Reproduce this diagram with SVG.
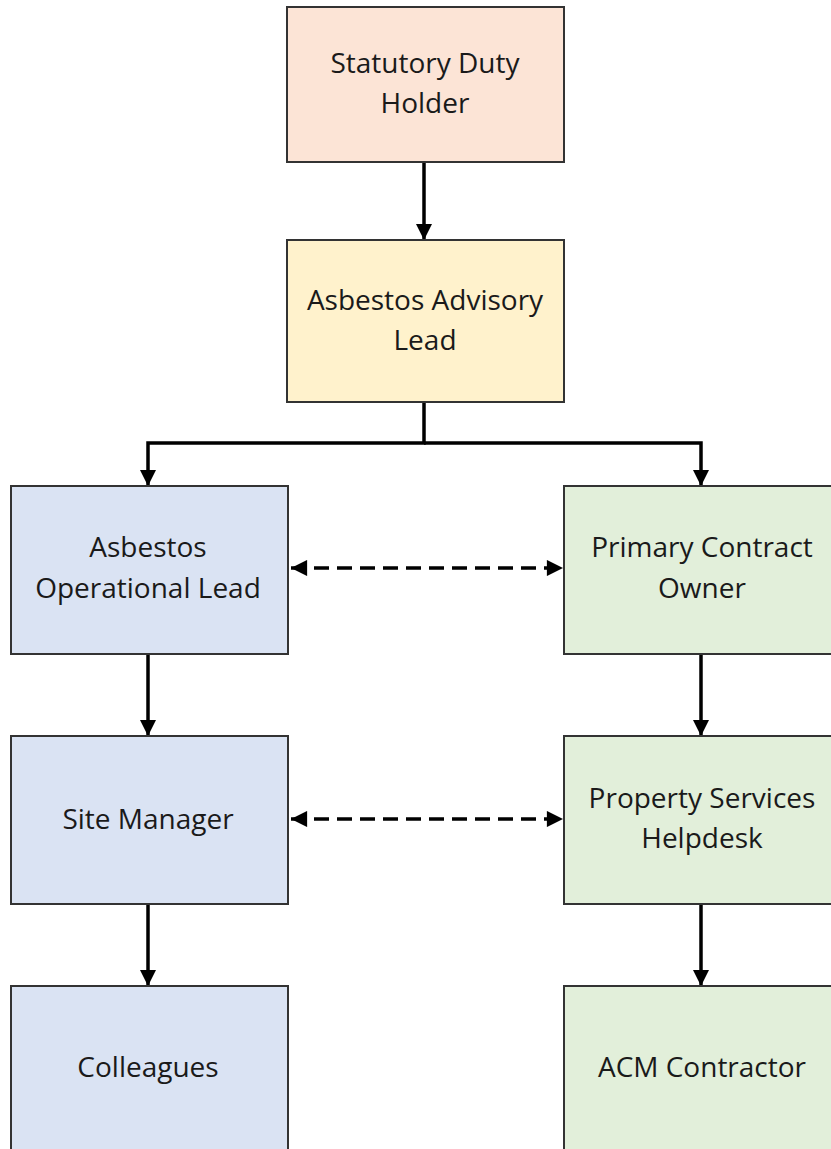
<svg xmlns="http://www.w3.org/2000/svg" width="831" height="1149" viewBox="0 0 831 1149">
<style>
.box{stroke:#333;stroke-width:2}
.peach{fill:#FCE4D6}.yellow{fill:#FFF2CC}.blue{fill:#DAE3F3}.green{fill:#E2EFDA}
text{font-family:"Open Sans","Liberation Sans",sans-serif;font-size:28px;fill:#1a1a1a;text-anchor:middle}
.line{stroke:#000;stroke-width:3.5;fill:none}
.dash{stroke:#000;stroke-width:3.5;fill:none;stroke-dasharray:15,8}
</style>
<defs>
<marker id="ah" viewBox="0 0 10 10" refX="10" refY="5" markerWidth="4.6" markerHeight="4.6" orient="auto" markerUnits="strokeWidth">
<path d="M0,0 L10,5 L0,10 z" fill="#000"/>
</marker>
<marker id="ahs" viewBox="0 0 10 10" refX="10" refY="5" markerWidth="5" markerHeight="4.6" orient="auto-start-reverse" markerUnits="strokeWidth">
<path d="M0,0 L10,5 L0,10 z" fill="#000"/>
</marker>
</defs>
<g id="connectors">
<line class="line" x1="424" y1="162" x2="424" y2="240" marker-end="url(#ah)"/>
<path class="line" d="M424,402 V443 H148 V486" marker-end="url(#ah)"/>
<path class="line" d="M424,443 H701 V486" marker-end="url(#ah)"/>
<line class="line" x1="148" y1="654" x2="148" y2="736" marker-end="url(#ah)"/>
<line class="line" x1="148" y1="904" x2="148" y2="986" marker-end="url(#ah)"/>
<line class="line" x1="701" y1="654" x2="701" y2="736" marker-end="url(#ah)"/>
<line class="line" x1="701" y1="904" x2="701" y2="986" marker-end="url(#ah)"/>
<line class="dash" x1="291" y1="568" x2="563" y2="568" marker-start="url(#ahs)" marker-end="url(#ahs)"/>
<line class="dash" x1="291" y1="819" x2="563" y2="819" marker-start="url(#ahs)" marker-end="url(#ahs)"/>
</g>
<g id="statutory-duty-holder">
<rect class="box peach" x="287" y="7" width="277" height="155"/>
<text x="425" y="73">Statutory Duty</text>
<text x="425" y="113">Holder</text>
</g>
<g id="asbestos-advisory-lead">
<rect class="box yellow" x="287" y="240" width="277" height="162"/>
<text x="425" y="310">Asbestos Advisory</text>
<text x="425" y="350">Lead</text>
</g>
<g id="asbestos-operational-lead">
<rect class="box blue" x="11" y="486" width="277" height="168"/>
<text x="148" y="557">Asbestos</text>
<text x="148" y="598">Operational Lead</text>
</g>
<g id="primary-contract-owner">
<rect class="box green" x="564" y="486" width="277" height="168"/>
<text x="702" y="557">Primary Contract</text>
<text x="702" y="598">Owner</text>
</g>
<g id="site-manager">
<rect class="box blue" x="11" y="736" width="277" height="168"/>
<text x="148" y="829">Site Manager</text>
</g>
<g id="property-services-helpdesk">
<rect class="box green" x="564" y="736" width="277" height="168"/>
<text x="702" y="808">Property Services</text>
<text x="702" y="848">Helpdesk</text>
</g>
<g id="colleagues">
<rect class="box blue" x="11" y="986" width="277" height="168"/>
<text x="148" y="1077">Colleagues</text>
</g>
<g id="acm-contractor">
<rect class="box green" x="564" y="986" width="277" height="168"/>
<text x="702" y="1077">ACM Contractor</text>
</g>
</svg>
